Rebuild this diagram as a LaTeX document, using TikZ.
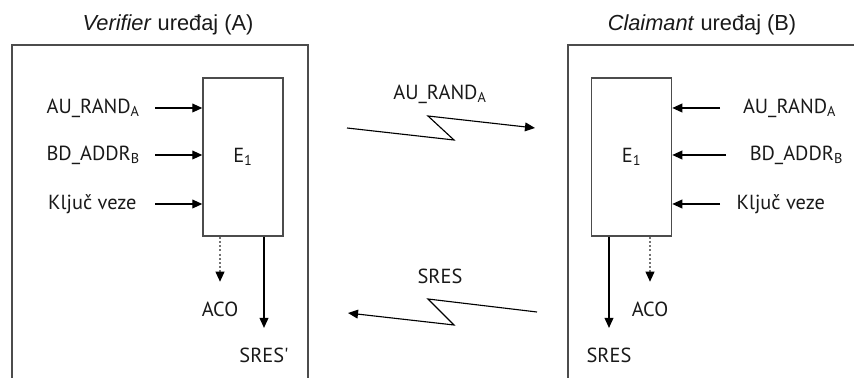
\documentclass[tikz,border=0pt]{standalone}
\usepackage{fontspec}
\setmainfont{Liberation Sans}
\newfontfamily\lblfont{PT Sans}
\usetikzlibrary{arrows.meta, positioning}

\begin{document}
\begin{tikzpicture}[
    frame/.style={draw=black!70, line width=1.1pt},
    encbox/.style={rectangle, draw=black!70, line width=1pt, minimum width=2cm, minimum height=3.95cm, inner sep=0pt, font=\lblfont\fontsize{14.5}{16}\selectfont, text=black!90},
    lbl/.style={inner sep=1pt, font=\lblfont\fontsize{14.5}{16}\selectfont, text=black!90},
    title/.style={inner sep=1pt, font=\fontsize{15.5}{18}\selectfont, text=black!90},
    link/.style={->, line width=0.9pt},
    outlink/.style={->, line width=0.9pt, shorten >=0.45cm},
    dotlink/.style={-{Triangle[length=2.5mm, width=2.2mm, color=black]}, line width=1pt, draw=black!55, dash pattern=on 1.4pt off 1.6pt, shorten >=0.47cm},
    >={Triangle[length=2.5mm, width=2.2mm]}
]
\useasboundingbox (0,0) rectangle (21.35,-9.45);

% Device frames (open at the bottom)
\draw[frame] (0.3,-9.45) -- (0.3,-1.125) -- (7.7,-1.125) -- (7.7,-9.45);
\draw[frame] (14.2,-9.45) -- (14.2,-1.125) -- (21.35,-1.125);

% Titles
\node[title] (vtitle) at (4.2,-0.62) {\textit{Verifier} uređaj (A)};
\node[title] (ctitle) at (17.55,-0.62) {\textit{Claimant} uređaj (B)};

% E1 blocks
\node[encbox] (e1a) at (6.075,-3.925) {E\textsubscript{1}};
\node[encbox] (e1b) at (15.79,-3.925) {E\textsubscript{1}};

% Verifier inputs
\node[lbl] (randa) at (2.33,-2.7) {AU\_RAND\textsubscript{A}};
\node[lbl] (addra) at (2.33,-3.875) {BD\_ADDR\textsubscript{B}};
\node[lbl] (keya) at (2.31,-5.1) {Ključ veze};

% Claimant inputs
\node[lbl] (randb) at (19.74,-2.7) {AU\_RAND\textsubscript{A}};
\node[lbl] (addrb) at (19.91,-3.875) {BD\_ADDR\textsubscript{B}};
\node[lbl] (keyb) at (19.52,-5.1) {Ključ veze};

% Outputs
\node[lbl] (acoa) at (5.5,-7.74) {ACO};
\node[lbl] (sresa) at (6.6,-8.875) {SRES'};
\node[lbl] (acob) at (16.25,-7.74) {ACO};
\node[lbl] (sresb) at (15.225,-8.875) {SRES};

% Radio messages
\node[lbl] (randmsg) at (11,-2.35) {AU\_RAND\textsubscript{A}};
\node[lbl] (sresmsg) at (11,-6.91) {SRES};
\coordinate (r1) at (8.675,-3.2);
\coordinate (r2) at (11.35,-3.5);
\coordinate (r3) at (10.7,-2.9);
\coordinate (r4) at (13.375,-3.2);
\coordinate (s1) at (13.425,-7.8);
\coordinate (s2) at (10.7,-7.475);
\coordinate (s3) at (11.35,-8.125);
\coordinate (s4) at (8.7,-7.825);

% Edges: inputs
\draw[link] (3.875,-2.7) -- (randa -| e1a.west);
\draw[link] (3.875,-3.875) -- (addra -| e1a.west);
\draw[link] (3.875,-5.1) -- (keya -| e1a.west);
\draw[link] (18.0,-2.7) -- (randb -| e1b.east);
\draw[link] (18.15,-3.875) -- (addrb -| e1b.east);
\draw[link] (18.0,-5.1) -- (keyb -| e1b.east);

% Edges: outputs
\draw[dotlink] (e1a.south -| acoa) -- (acoa.north);
\draw[outlink] (e1a.south -| sresa) -- (sresa.north);
\draw[dotlink] (e1b.south -| acob) -- (acob.north);
\draw[outlink] (e1b.south -| sresb) -- (sresb.north);

% Edges: radio links
\draw[link, line width=0.8pt] (r1) -- (r2) -- (r3) -- (r4);
\draw[link, line width=0.8pt] (s1) -- (s2) -- (s3) -- (s4);

\end{tikzpicture}
\end{document}
